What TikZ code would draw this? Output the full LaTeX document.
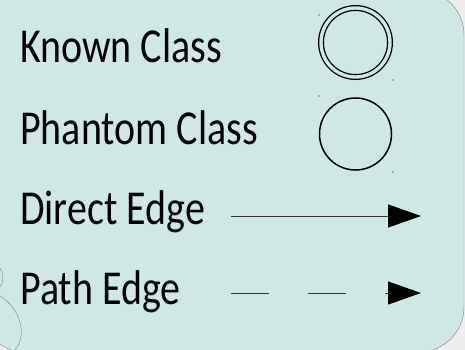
\documentclass[tikz,border=0pt]{standalone}
\usepackage{fontspec}
\setmainfont{Carlito}
\usetikzlibrary{arrows.meta,positioning}
\definecolor{legendbg}{HTML}{CFE8E5}
\definecolor{pagebg}{HTML}{EEEEEE}
\newcommand\tall[1]{\scalebox{1}[1.22]{#1}}

\begin{document}
\begin{tikzpicture}[
   x=1pt, y=-1pt,
   legend/.style={anchor=base west, inner sep=0pt, font=\fontsize{40}{44}\selectfont},
   class/.style={circle, draw, line width=1.5pt, minimum size=72pt, inner sep=0pt},
   known/.style={class, line width=1.3pt, double=legendbg, double distance=3.4pt,
                 minimum size=69pt},
   edge/.style={line width=1pt, draw=black!80},
   >={Triangle[length=33pt, width=23pt, color=black]}]
  \useasboundingbox (0,0) rectangle (465,350);
  \fill[pagebg] (0,0) rectangle (465,350);
  \draw[gray, fill=legendbg, rounded corners=45pt] (-20,-10) rectangle (464,352);
  % bits of a shape behind the legend
  \draw[gray] (0,268) .. controls (4,274) and (4,282) .. (0,287);
  \draw[gray] (0,296) .. controls (20,308) and (28,335) .. (15,350);

  \node[legend] (known lbl) at (20,63) {\tall{Known Class}};
  \node[legend] (phantom lbl) at (20,144) {\tall{Phantom Class}};
  \node[legend] (direct lbl) at (20,224) {\tall{Direct Edge}};
  \node[legend] (path lbl) at (20,304) {\tall{Path Edge}};

  \node[known] (known) at (355.5,42.5) {};
  \node[class] (phantom) at (355.5,134) {};
  \foreach \p in {(319,15),(393,80),(319,96),(393,172)}
    \fill \p circle (0.6pt);

  \coordinate (direct from) at (231,216);
  \coordinate (direct to) at (421,216);
  \coordinate (path from) at (231,293);
  \coordinate (path to) at (421,293);
  \draw[edge, ->] (direct from) -- (direct to);
  \draw[edge, ->, dash pattern=on 38pt off 39pt] (path from) -- (path to);
\end{tikzpicture}
\end{document}
